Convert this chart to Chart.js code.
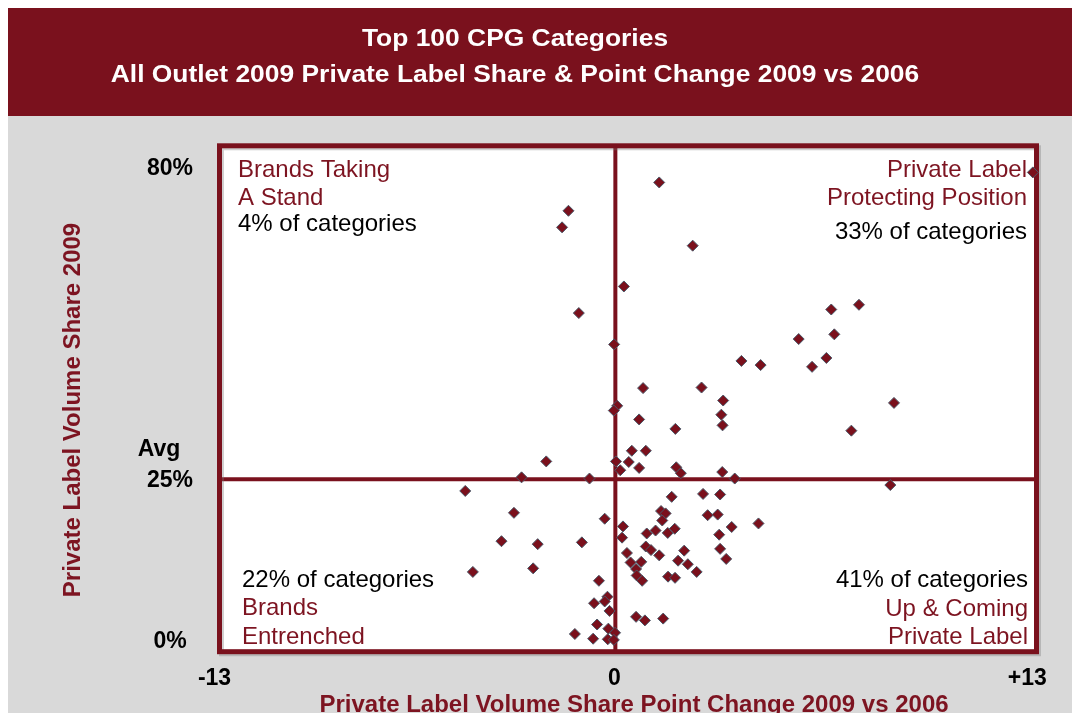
<!DOCTYPE html>
<html>
<head>
<meta charset="utf-8">
<script src="https://cdn.jsdelivr.net/npm/chart.js@4/dist/chart.umd.min.js"></script>
<style>
html,body{margin:0;padding:0;background:#fff;}
#wrap{width:1072px;height:713px;position:relative;overflow:hidden;}
</style>
</head>
<body>
<div id="wrap"><canvas id="c" width="1072" height="713"></canvas></div>
<script>
// ---- text ----
const titleLines = ['Top 100 CPG Categories', 'All Outlet 2009 Private Label Share & Point Change 2009 vs 2006'];
const xAxisTitle = 'Private Label Volume Share Point Change 2009 vs 2006';
const yAxisTitle = 'Private Label Volume Share 2009';

// ---- data: point change 2009 vs 2006 (x) and 2009 private label share % (y) ----
const pointChange = [
  13.71, 1.44, -1.54, -1.75, 2.54, 0.28, -1.20, -0.04, 7.09, 8.00,
  7.19, 6.02, 4.14, 4.77, 6.46, 6.93, 0.91, 2.83, 3.54, 3.48,
  3.52, 9.15, 7.75, 0.06, -0.05, 0.78, 1.97, 0.54, 1.00, 0.02,
  0.44, 0.78, 0.16, 2.00, 2.15, 3.51, 3.92, -2.27, -3.08, -0.85,
  -4.93, -3.33, -0.35, -3.74, -2.55, -1.10, -4.68, -2.70, -0.54, -0.26,
  -0.35, -0.70, -0.19, -0.60, -0.23, -0.01, -1.33, -0.73, -0.25, -0.05,
  9.03, 1.85, 2.88, 3.44, 1.50, 1.65, 1.54, 3.03, 3.36, 4.70,
  3.82, 0.25, 0.22, 1.03, 1.32, 1.72, 1.95, 3.41, 1.00, 1.17,
  1.44, 2.26, 3.44, 3.64, 0.38, 0.50, 0.85, 0.68, 0.70, 0.88,
  2.06, 2.38, 2.67, 1.73, 1.96, 0.68, 0.97, 1.57
];
const share2009 = [
  79.1, 77.4, 72.6, 69.8, 66.7, 59.8, 55.3, 50.0, 55.9, 56.7,
  51.7, 50.9, 47.2, 46.5, 46.2, 47.7, 42.6, 42.7, 40.5, 38.1,
  36.3, 40.1, 35.4, 39.6, 38.8, 37.3, 35.7, 32.0, 32.0, 30.2,
  30.1, 29.1, 28.7, 29.2, 28.2, 28.4, 27.3, 30.2, 27.5, 27.3,
  25.2, 21.5, 20.5, 16.7, 16.2, 16.5, 11.5, 12.1, 10.0, 7.3,
  6.5, 6.2, 4.9, 2.6, 1.9, 1.2, 1.0, 0.2, 0.1, 0.0,
  26.2, 24.2, 24.7, 24.6, 21.8, 21.4, 20.2, 21.1, 21.2, 19.7,
  19.1, 19.2, 17.3, 18.0, 18.5, 18.1, 18.8, 17.8, 15.8, 15.2,
  14.3, 15.1, 15.4, 13.7, 14.7, 13.1, 13.2, 12.0, 10.9, 10.0,
  13.4, 12.8, 11.5, 10.7, 10.5, 3.9, 3.3, 3.6
];
const avgShare = 27.2;
const xDivider = 0;

// ---- ticks ----
const xTickValues = [-13, 0, 13];
const xTickLabels = ['-13', '0', '+13'];
const yTickValues = [0, avgShare, 80];
const yTickLabels = [['0%'], ['Avg', '25%'], ['80%']];

// ---- quadrant labels ----
const qTopLeft = [['Brands Taking', 'red'], ['A Stand', 'red'], ['4% of categories', 'black']];
const qTopRight = [['Private Label', 'red'], ['Protecting Position', 'red'], ['33% of categories', 'black']];
const qBottomLeft = [['22% of categories', 'black'], ['Brands', 'red'], ['Entrenched', 'red']];
const qBottomRight = [['41% of categories', 'black'], ['Up & Coming', 'red'], ['Private Label', 'red']];

// ---- style ----
const MAROON = '#7a111d';
const TEXT_RED = '#7d1421';
const GREY = '#d9d9d9';
const FONT = '"Liberation Sans", Arial, Helvetica, sans-serif';

const pts = pointChange.map((x, i) => ({x: x, y: share2009[i]}));

const decor = {
  id: 'decor',
  beforeDraw(chart) {
    const ctx = chart.ctx;
    const ca = chart.chartArea;
    const xs = chart.scales.x, ys = chart.scales.y;
    ctx.save();
    ctx.fillStyle = '#ffffff';
    ctx.fillRect(0, 0, chart.width, chart.height);
    ctx.fillStyle = GREY;
    ctx.fillRect(8, 116, chart.width - 8, chart.height - 116);
    ctx.fillStyle = MAROON;
    ctx.fillRect(8, 8, chart.width - 8, 108);
    // titles (slightly widened lettering, as in the original)
    ctx.fillStyle = '#ffffff';
    ctx.textAlign = 'center';
    ctx.textBaseline = 'alphabetic';
    ctx.font = 'bold 24px ' + FONT;
    const drawWide = (txt, cx, by, sx) => {
      ctx.save();
      ctx.translate(cx, by);
      ctx.scale(sx, 1);
      ctx.fillText(txt, 0, 0);
      ctx.restore();
    };
    drawWide(titleLines[0], 515, 46, 1.1);
    drawWide(titleLines[1], 515, 82, 1.1);
    // plot background
    ctx.fillStyle = '#ffffff';
    ctx.fillRect(ca.left, ca.top, ca.right - ca.left, ca.bottom - ca.top);
    // y ticks
    ctx.fillStyle = '#000000';
    ctx.font = 'bold 23px ' + FONT;
    yTickValues.forEach((v, i) => {
      const py = ys.getPixelForValue(v);
      const lines = yTickLabels[i];
      for (let k = lines.length - 1, j = 0; k >= 0; k--, j++) {
        const dx = (j > 0) ? -11 : 0;
        ctx.fillText(lines[k], 170 + dx, py + 8 - j * 31);
      }
    });
    // x ticks
    const xOff = [-5, -1, 16];
    xTickValues.forEach((v, i) => {
      ctx.fillText(xTickLabels[i], xs.getPixelForValue(v) + xOff[i], 685);
    });
    // axis titles
    ctx.fillStyle = TEXT_RED;
    ctx.font = 'bold 24px ' + FONT;
    ctx.fillText(xAxisTitle, 634, 712);
    ctx.save();
    ctx.translate(80, 410);
    ctx.rotate(-Math.PI / 2);
    ctx.fillText(yAxisTitle, 0, 0);
    ctx.restore();
    // quadrant texts
    ctx.font = '24px ' + FONT;
    const drawBlock = (lines, x, ys0, align) => {
      ctx.textAlign = align;
      lines.forEach((ln, i) => {
        ctx.fillStyle = ln[1] === 'red' ? TEXT_RED : '#000000';
        ctx.fillText(ln[0], x, ys0[i]);
      });
    };
    drawBlock(qTopLeft, 238, [177, 205, 231], 'left');
    drawBlock(qTopRight, 1027, [177, 205, 239], 'right');
    drawBlock(qBottomLeft, 242, [587, 615, 644], 'left');
    drawBlock(qBottomRight, 1028, [587, 616, 644], 'right');
    ctx.restore();
  },
  beforeDatasetsDraw(chart) {
    const ctx = chart.ctx;
    const ca = chart.chartArea;
    const xs = chart.scales.x, ys = chart.scales.y;
    ctx.save();
    ctx.strokeStyle = MAROON;
    // average line
    ctx.lineWidth = 4;
    const ay = ys.getPixelForValue(avgShare);
    ctx.beginPath();
    ctx.moveTo(ca.left, ay);
    ctx.lineTo(ca.right, ay);
    ctx.stroke();
    // zero line
    const zx = xs.getPixelForValue(xDivider);
    ctx.beginPath();
    ctx.moveTo(zx, ca.top);
    ctx.lineTo(zx, ca.bottom);
    ctx.stroke();
    // border with faint shadow
    ctx.lineWidth = 5;
    ctx.strokeStyle = 'rgba(120,120,120,0.35)';
    ctx.strokeRect(ca.left + 2, ca.top + 2, ca.right - ca.left, ca.bottom - ca.top);
    ctx.strokeStyle = MAROON;
    ctx.strokeRect(ca.left, ca.top, ca.right - ca.left, ca.bottom - ca.top);
    ctx.restore();
  }
};

new Chart(document.getElementById('c'), {
  type: 'scatter',
  data: {
    datasets: [{
      data: pts,
      pointStyle: 'rectRot',
      radius: 5.5,
      hoverRadius: 5.5,
      backgroundColor: '#7a101c',
      borderColor: '#4a5868',
      borderWidth: 1,
      clip: false
    }]
  },
  options: {
    responsive: false,
    animation: false,
    devicePixelRatio: 1,
    layout: {padding: {left: 219.5, right: 35.5, top: 145.8, bottom: 61.3}},
    scales: {
      x: {type: 'linear', min: -13, max: 13.83, display: false},
      y: {type: 'linear', min: -2, max: 83.6, display: false}
    },
    plugins: {legend: {display: false}, tooltip: {enabled: false}, title: {display: false}}
  },
  plugins: [decor]
});
</script>
</body>
</html>
